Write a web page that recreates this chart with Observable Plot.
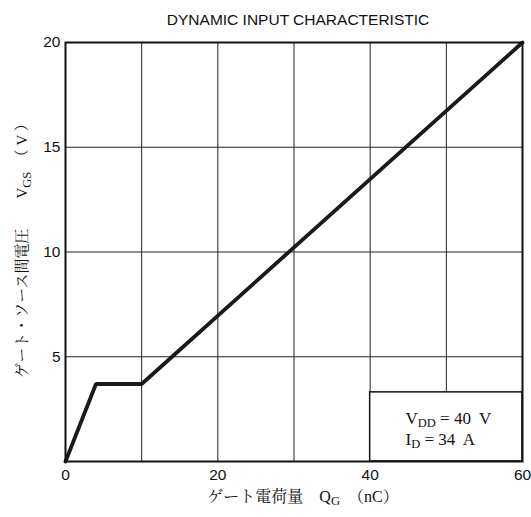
<!DOCTYPE html>
<html><head><meta charset="utf-8">
<script src="https://cdn.jsdelivr.net/npm/d3@7"></script>
<script src="https://cdn.jsdelivr.net/npm/@observablehq/plot@0.6"></script>
<style>body{margin:0;background:#fff}</style>
</head><body><div id="chart"></div>
<script>
// Data
const qg = [0, 4, 10, 60];          // gate charge (nC)
const vgs = [0, 3.7, 3.7, 20];      // gate-source voltage (V)
const xTicks = [0, 20, 40, 60];
const yTicks = [5, 10, 15, 20];
const xGrid = [10, 20, 30, 40, 50];
const yGrid = [5, 10, 15];
const legendBox = [{x1: 40, x2: 60, y1: 0, y2: 3.3}];
const legendLines = ["V{DD} = 40  V", "I{D} = 34  A"];
const title = "DYNAMIC INPUT CHARACTERISTIC";
const xLabel = "ゲート電荷量　Q{G}  （nC）";
const yLabel = "ゲート・ソース間電圧　　V{GS}　（ V ）";

const data = qg.map((q, i) => ({q, v: vgs[i]}));

const serif = "'Liberation Serif','DejaVu Serif','Noto Serif CJK JP','Noto Sans CJK JP',serif";
const sans = "'Liberation Sans Narrow','Liberation Sans',Arial,sans-serif";

const chart = Plot.plot({
  width: 531,
  height: 517,
  marginTop: 42,
  marginLeft: 65,
  marginRight: 9,
  marginBottom: 56,
  style: {fontFamily: sans, fontSize: "15px", color: "#111", background: "#fff"},
  x: {domain: [0, 60]},
  y: {domain: [0, 20]},
  marks: [
    Plot.ruleX(xGrid, {stroke: "#222", strokeWidth: 1}),
    Plot.ruleY(yGrid, {stroke: "#222", strokeWidth: 1}),
    Plot.rect(legendBox, {x1: "x1", x2: "x2", y1: "y1", y2: "y2", fill: "white", stroke: "#111", strokeWidth: 1.5}),
    Plot.line(data, {x: "q", y: "v", stroke: "#1a1a1a", strokeWidth: 3.8, strokeLinejoin: "miter"}),
    Plot.frame({stroke: "#111", strokeWidth: 2}),
    Plot.axisX(xTicks, {tickSize: 0, tickPadding: 7, fontSize: 15.5, fill: "#111"}),
    Plot.axisY(yTicks, {tickSize: 0, tickPadding: 5, fontSize: 15.5, fill: "#111"}),
    Plot.text([title], {frameAnchor: "top", lineAnchor: "middle", dy: -22, dx: 4, fontSize: 15.5, fontFamily: sans, fill: "#111"}),
    Plot.text([xLabel], {frameAnchor: "bottom", lineAnchor: "middle", textAnchor: "middle", dy: 35, dx: 9, fontSize: 16, fontFamily: serif, fill: "#111"}),
    Plot.text([yLabel], {frameAnchor: "left", lineAnchor: "middle", textAnchor: "middle", dx: -43, dy: -5, rotate: -90, fontSize: 15, fontFamily: serif, fill: "#111"}),
    Plot.text([legendLines[0]], {frameAnchor: "bottom-right", lineAnchor: "middle", textAnchor: "start", dx: -117, dy: -43, fontSize: 17, fontFamily: serif, fill: "#111"}),
    Plot.text([legendLines[1]], {frameAnchor: "bottom-right", lineAnchor: "middle", textAnchor: "start", dx: -117, dy: -22, fontSize: 17, fontFamily: serif, fill: "#111"})
  ]
});

// turn {..} markers into subscripts
d3.select(chart).selectAll("text").each(function() {
  const el = this;
  const s = el.textContent;
  if (!s.includes("{")) return;
  const fs = parseFloat(el.getAttribute("font-size")) || parseFloat(getComputedStyle(el).fontSize) || 16;
  const shift = fs * 0.22;
  el.textContent = "";
  const parts = s.split(/(\{[^}]*\})/);
  let pending = 0;
  for (const p of parts) {
    if (!p) continue;
    const t = document.createElementNS("http://www.w3.org/2000/svg", "tspan");
    if (p.startsWith("{")) {
      t.textContent = p.slice(1, -1);
      t.setAttribute("font-size", (fs * 0.78).toFixed(1));
      t.setAttribute("dy", shift.toFixed(1));
      pending = -shift;
    } else {
      t.textContent = p;
      if (pending) t.setAttribute("dy", pending.toFixed(1));
      pending = 0;
    }
    el.appendChild(t);
  }
});

document.getElementById("chart").appendChild(chart);
</script>
</body></html>
